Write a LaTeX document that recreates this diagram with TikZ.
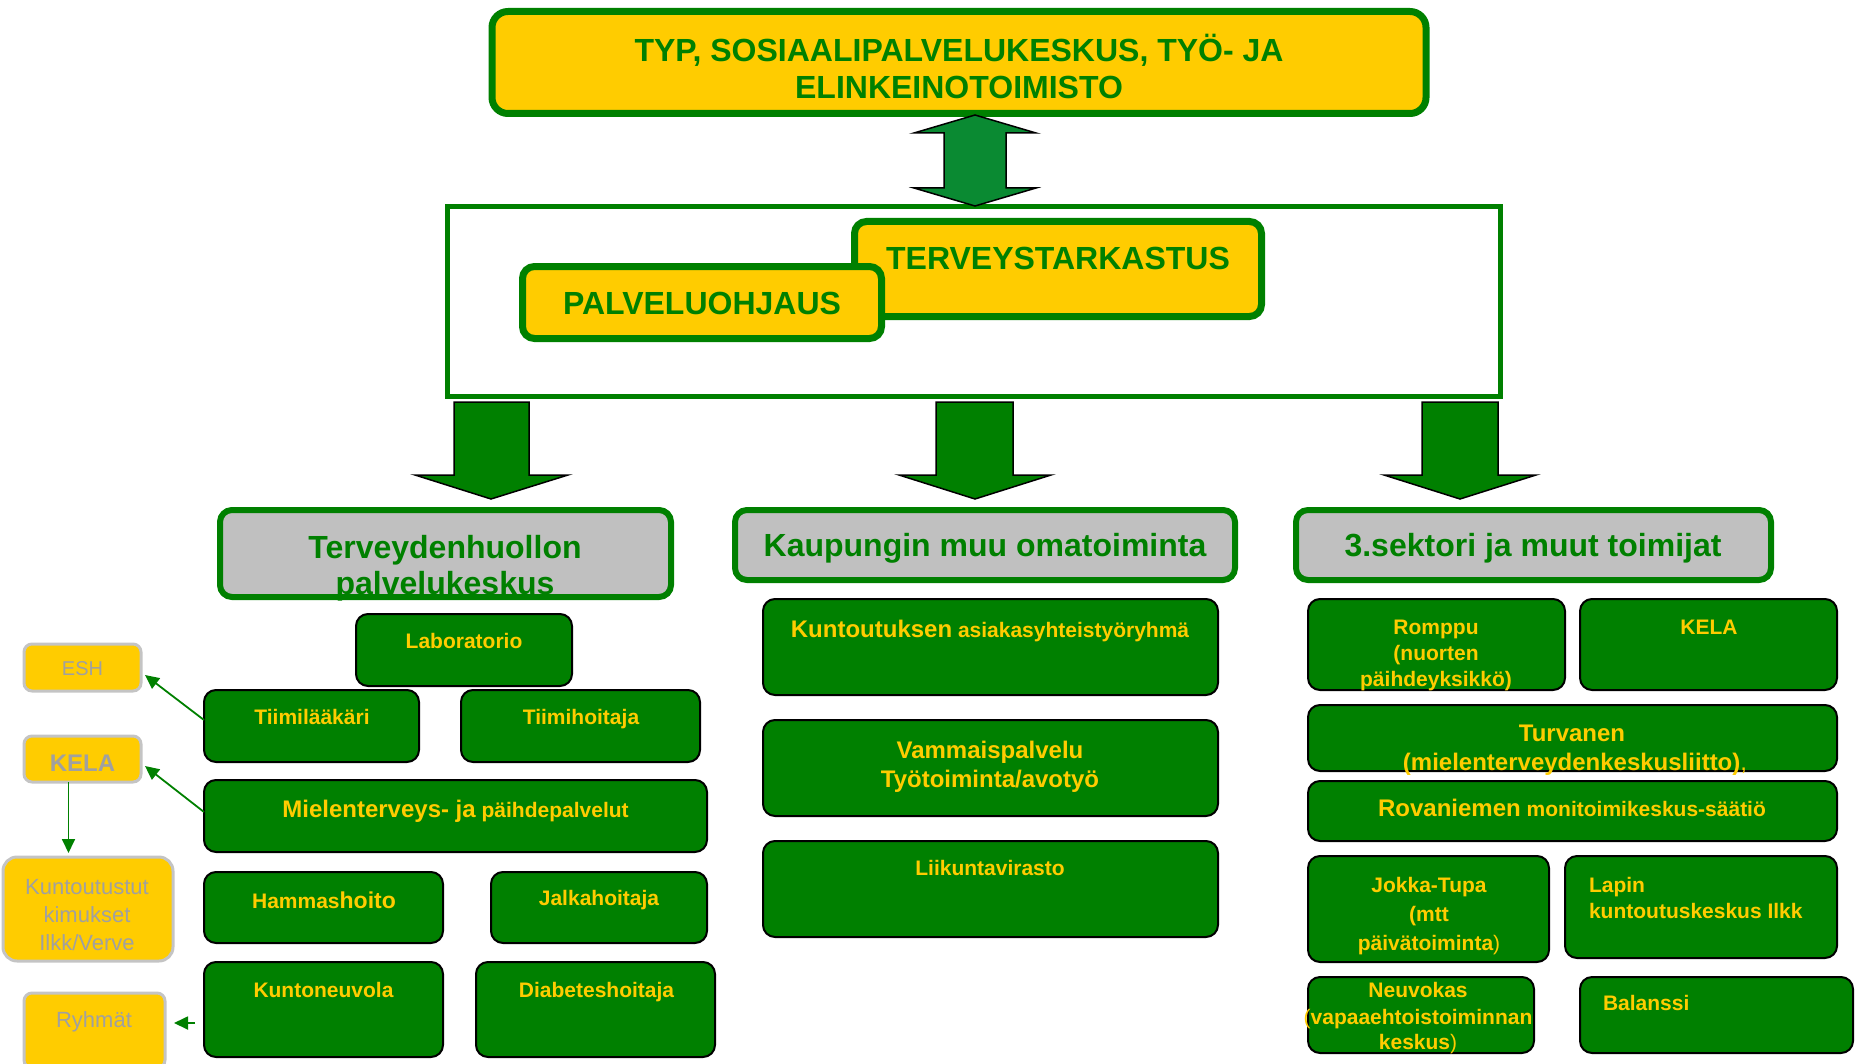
\documentclass[tikz,border=0pt]{standalone}
\usepackage{fontspec}
\setmainfont{Liberation Sans}
\usetikzlibrary{arrows.meta,calc}
\definecolor{grn}{HTML}{008000}
\definecolor{ylw}{HTML}{FFCC00}
\definecolor{gry}{HTML}{C0C0C0}
\definecolor{dgrn}{HTML}{0A8A32}
\definecolor{lgry}{HTML}{C4C4C4}
\definecolor{gtxt}{HTML}{A0A0A0}
\newcommand\mybox[6]{%
  \pgfmathsetmacro\mbcx{(#3+#5)/2}%
  \pgfmathsetmacro\mbcy{(#4+#6)/2}%
  \pgfmathsetmacro\mbw{(#5-#3)/2}%
  \pgfmathsetmacro\mbh{(#6-#4)/2}%
  \node[#2, inner sep=0pt, outer sep=0pt, minimum width=\mbw pt, minimum height=\mbh pt] (#1) at (\mbcx,\mbcy) {};}
\tikzset{
  topbox/.style={draw=grn, line width=3.5pt, fill=ylw, rounded corners=8pt},
  frmbox/.style={draw=grn, line width=2.5pt, fill=white},
  ybox/.style={draw=grn, line width=3.5pt, fill=ylw, rounded corners=6pt},
  hdr/.style={draw=grn, line width=3pt, fill=gry, rounded corners=6pt},
  gbox/.style={draw=black, line width=1pt, fill=grn, rounded corners=6pt},
  lybox/.style={draw=lgry, line width=1.5pt, fill=ylw, rounded corners=4pt},
  lyboxb/.style={draw=lgry, line width=1.5pt, fill=ylw, rounded corners=7pt},
  blockarrow/.style={draw=black, line width=0.75pt, fill=grn},
  dblarrow/.style={draw=black, line width=0.75pt, fill=dgrn},
  conn/.style={draw=grn, line width=0.9pt, -{Triangle[length=7pt,width=6.5pt]}},
  tx/.style={inner sep=0pt, outer sep=0pt, text depth=0pt},
  fbig/.style={tx, font=\bfseries\fontsize{16pt}{18pt}\selectfont, text height=11.5pt},
  fmid/.style={tx, font=\bfseries\fontsize{12pt}{14pt}\selectfont, text height=8.6pt},
  fsml/.style={tx, font=\bfseries\fontsize{10.5pt}{12pt}\selectfont, text height=7.5pt},
  freg/.style={tx, font=\fontsize{11pt}{13pt}\selectfont, text height=7.9pt},
  fregs/.style={tx, font=\fontsize{10pt}{12pt}\selectfont, text height=7.2pt},
  tY/.style={text=ylw},
  tG/.style={text=grn},
  tGr/.style={text=gtxt},
}
\begin{document}
\begin{tikzpicture}[x=0.5pt,y=-0.5pt]
\useasboundingbox (0,0) rectangle (1861,1064);
\clip (0,0) rectangle (1861,1064);

% top box
\mybox{top}{topbox}{492}{11.5}{1426}{113.5}
\node[fbig,tG] (t1) at (959,50) {TYP, SOSIAALIPALVELUKESKUS, TYÖ- JA};
\node[fbig,tG] (t2) at (959,87) {ELINKEINOTOIMISTO};

% frame with two boxes
\mybox{frame}{frmbox}{447.5}{206.5}{1500.5}{396.5}
\mybox{terv}{ybox}{854.5}{221.5}{1261.5}{316.5}
\node[fbig,tG] (tervt) at (1058,258) {TERVEYSTARKASTUS};
\mybox{palv}{ybox}{522.5}{266.5}{881.5}{338.5}
\node[fbig,tG] (palvt) at (702,303) {PALVELUOHJAUS};

% double arrow
\draw[dblarrow] (975,115) -- (1036,133) -- (1006,133) -- (1006,188) -- (1036,188)
  -- (975,206) -- (914,188) -- (944,188) -- (944,133) -- (914,133) -- cycle;

% block arrows down
\draw[blockarrow] (454,402) -- (529,402) -- (529,475) -- (568,475) -- (491,499)
  -- (415,475) -- (454,475) -- cycle;
\draw[blockarrow] (936,402) -- (1013,402) -- (1013,475) -- (1051,475) -- (975,499)
  -- (899,475) -- (936,475) -- cycle;
\draw[blockarrow] (1422,402) -- (1498,402) -- (1498,475) -- (1536,475) -- (1460,499)
  -- (1384,475) -- (1422,475) -- cycle;

% headers
\mybox{h1}{hdr}{220}{510}{671}{597}
\node[fbig,tG] (h1a) at (445,547) {Terveydenhuollon};
\node[fbig,tG] (h1b) at (445,583) {palvelukeskus};
\mybox{h2}{hdr}{735}{510}{1235}{580}
\node[fbig,tG] (h2t) at (985,545) {Kaupungin muu omatoiminta};
\mybox{h3}{hdr}{1296}{510}{1771}{580}
\node[fbig,tG] (h3t) at (1533,545) {3.sektori ja muut toimijat};

% left column (green)
\mybox{lab}{gbox}{356}{614}{572}{686}
\node[fsml,tY] (labt) at (464,641) {Laboratorio};
\mybox{tl}{gbox}{204}{690}{419}{762}
\node[fsml,tY] (tlt) at (312,717) {Tiimilääkäri};
\mybox{th}{gbox}{461}{690}{700}{762}
\node[fsml,tY] (tht) at (581,717) {Tiimihoitaja};
\mybox{mp}{gbox}{204}{780}{707}{852}
\node[fsml,tY,text height=8.6pt] (mpt) at (455.5,809) {{\fontsize{12pt}{14pt}\selectfont Mielenterveys- ja} päihdepalvelut};
\mybox{hm}{gbox}{204}{872}{443}{943}
\node[fsml,tY,text height=8.2pt] (hmt) at (324,900) {Hammas{\fontsize{11.5pt}{13pt}\selectfont hoito}};
\mybox{jk}{gbox}{491}{872}{707}{943}
\node[fsml,tY] (jkt) at (599,898) {Jalkahoitaja};
\mybox{kn}{gbox}{204}{962}{443}{1057}
\node[fsml,tY] (knt) at (323.5,990) {Kuntoneuvola};
\mybox{db}{gbox}{476}{962}{715}{1057}
\node[fsml,tY] (dbt) at (596.5,990) {Diabeteshoitaja};

% left column (yellow)
\mybox{esh}{lybox}{24}{644}{141}{691}
\node[fregs,tGr] (esht) at (82.5,668) {ESH};
\mybox{kela1}{lybox}{24}{736}{141}{782}
\node[fmid,tGr] (kela1t) at (82.5,763) {KELA};
\mybox{kt}{lyboxb}{3}{857}{173}{961}
\node[freg,tGr] (kta) at (87,887) {Kuntoutustut};
\node[freg,tGr] (ktb) at (87,915) {kimukset};
\node[freg,tGr] (ktc) at (87,943) {Ilkk/Verve};
\mybox{ry}{lybox}{24}{993}{165}{1068}
\node[freg,tGr] (ryt) at (94,1020) {Ryhmät};

% connectors
\draw[conn] ($(tl.west)+(0,-6)$) -- ($(esh.east)+(4,7.5)$);
\draw[conn] ($(mp.west)+(0,-4)$) -- ($(kela1.east)+(4,7)$);
\draw[conn] ($(kela1.south)+(-14,0)$) -- ($(kt.north)+(-19.5,-4)$);
\draw[conn] ($(kn.west)+(-9,13.5)$) -- ($(ry.east)+(9,-7.5)$);

% middle column
\mybox{ka}{gbox}{763}{599}{1218}{695}
\node[fsml,tY,text height=8.6pt] (kat) at (990,629) {{\fontsize{12pt}{14pt}\selectfont Kuntoutuksen} asiakasyhteistyöryhmä};
\mybox{vp}{gbox}{763}{720}{1218}{816}
\node[fmid,tY] (vpa) at (990,750) {Vammaispalvelu};
\node[fmid,tY] (vpb) at (990,779) {Työtoiminta/avotyö};
\mybox{lv}{gbox}{763}{841}{1218}{937}
\node[fsml,tY] (lvt) at (990,868) {Liikuntavirasto};

% right column
\mybox{rp}{gbox}{1308}{599}{1565}{690}
\node[fsml,tY] (rpa) at (1436,627) {Romppu};
\node[fsml,tY] (rpb) at (1436,653) {(nuorten};
\node[fsml,tY] (rpc) at (1436,679) {päihdeyksikkö)};
\mybox{kela2}{gbox}{1580}{599}{1837}{690}
\node[fsml,tY] (kela2t) at (1709,627) {KELA};
\mybox{tv}{gbox}{1308}{705}{1837}{771}
\node[fmid,tY] (tva) at (1572,733) {Turvanen};
\node[fmid,tY] (tvb) at (1575,762) {(mielenterveydenkeskusliitto){\mdseries ,}};
\mybox{rv}{gbox}{1308}{781}{1837}{841}
\node[fsml,tY,text height=8.6pt] (rvt) at (1572,808) {{\fontsize{12pt}{14pt}\selectfont Rovaniemen} monitoimikeskus-säätiö};
\mybox{jt}{gbox}{1308}{856}{1549}{962}
\node[fsml,tY] (jta) at (1429,885) {Jokka-Tupa};
\node[fsml,tY] (jtb) at (1429,914) {(mtt};
\node[fsml,tY] (jtc) at (1429,943) {päivätoiminta{\mdseries )}};
\mybox{lk}{gbox}{1565}{856}{1837}{958}
\node[fsml,tY,anchor=west] (lka) at (1589,885) {Lapin};
\node[fsml,tY,anchor=west] (lkb) at (1589,911) {kuntoutuskeskus Ilkk};
\mybox{nv}{gbox}{1308}{977}{1534}{1053}
\node[fsml,tY] (nva) at (1418,990) {Neuvokas};
\node[fsml,tY] (nvb) at (1418,1017) {{\mdseries (}vapaaehtoistoiminnan};
\node[fsml,tY] (nvc) at (1418,1042) {keskus{\mdseries )}};
\mybox{bl}{gbox}{1580}{977}{1853}{1053}
\node[fsml,tY,anchor=west] (blt) at (1603,1003) {Balanssi};
\end{tikzpicture}
\end{document}
